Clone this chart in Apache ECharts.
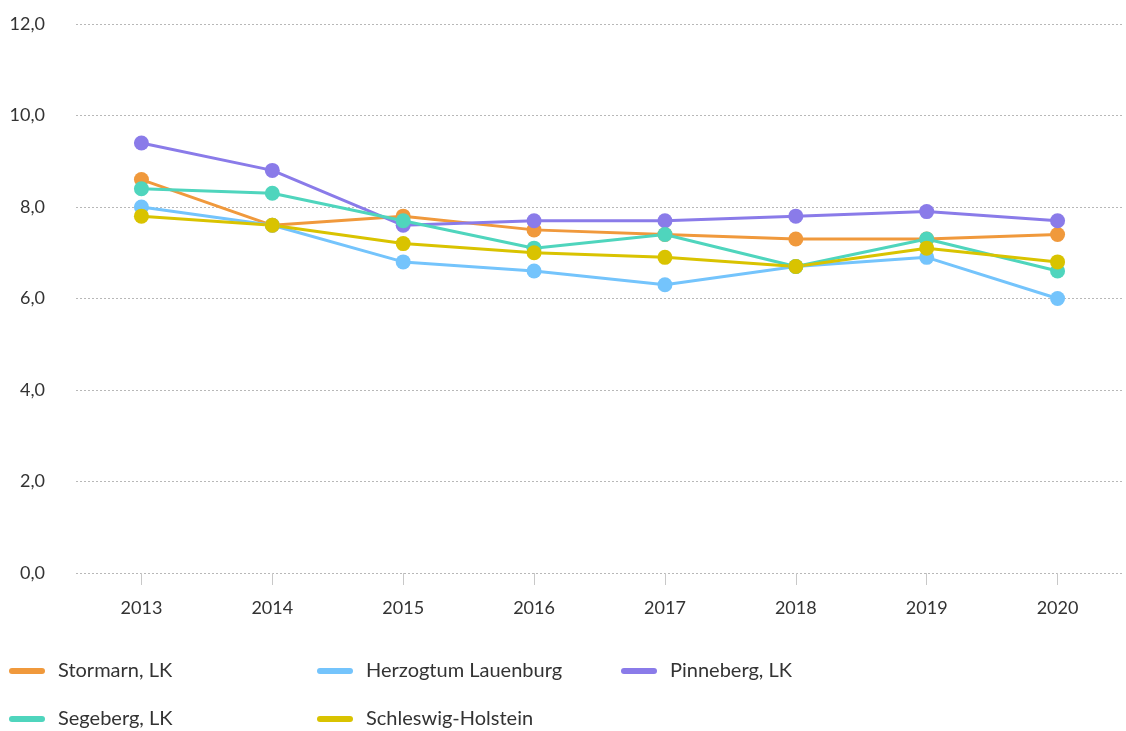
<!DOCTYPE html>
<html>
<head>
<meta charset="utf-8">
<script src="https://cdn.jsdelivr.net/npm/echarts@6/dist/echarts.min.js"></script>
<style>
  html, body { margin: 0; padding: 0; background: #fff; }
  #chart { width: 1126px; height: 731px; }
</style>
</head>
<body>
<div id="chart"></div>
<script>
// Daten
const years = ['2013', '2014', '2015', '2016', '2017', '2018', '2019', '2020'];
const seriesNames = ['Stormarn, LK', 'Herzogtum Lauenburg', 'Pinneberg, LK', 'Segeberg, LK', 'Schleswig-Holstein'];
const stormarn = [8.6, 7.6, 7.8, 7.5, 7.4, 7.3, 7.3, 7.4];
const lauenburg = [8.0, 7.6, 6.8, 6.6, 6.3, 6.7, 6.9, 6.0];
const pinneberg = [9.4, 8.8, 7.6, 7.7, 7.7, 7.8, 7.9, 7.7];
const segeberg = [8.4, 8.3, 7.7, 7.1, 7.4, 6.7, 7.3, 6.6];
const schleswigHolstein = [7.8, 7.6, 7.2, 7.0, 6.9, 6.7, 7.1, 6.8];
const yTicks = [0, 2, 4, 6, 8, 10, 12];

const colors = ['#f0993c', '#74c4fc', '#8a7be9', '#4fd5bd', '#d9c300'];
const allData = [stormarn, lauenburg, pinneberg, segeberg, schleswigHolstein];

const font = 'Lato';
const pill = 'path://M3,0 H33 A3,3 0 0 1 33,6 H3 A3,3 0 0 1 3,0 Z';

// jede Legende einzeln positionieren (2 Zeilen, 3 Spalten)
const legendPos = [[9, 671], [317, 671], [621, 671], [9, 719], [317, 719]];
const legends = seriesNames.map((name, i) => ({
    data: [name],
    left: legendPos[i][0],
    top: legendPos[i][1] - 12,
    padding: 0,
    icon: pill,
    itemWidth: 36,
    itemHeight: 6,
    selectedMode: false,
    textStyle: {
        fontFamily: font,
        fontSize: 20,
        lineHeight: 24,
        color: '#333',
        padding: [0, 0, 0, 8]
    }
}));

const chart = echarts.init(document.getElementById('chart'));
const option = {
    animation: false,
    backgroundColor: '#fff',
    color: colors,
    grid: {
        left: 76,
        right: 3,
        top: 24,
        bottom: 158,
        containLabel: false
    },
    legend: legends,
    xAxis: {
        type: 'category',
        data: years,
        boundaryGap: true,
        offset: 4,
        axisLine: { show: false },
        axisTick: {
            show: true,
            alignWithLabel: true,
            length: 12,
            lineStyle: { color: '#c8c8c8' }
        },
        axisLabel: {
            margin: 22,
            fontFamily: font,
            fontSize: 18,
            color: '#333'
        }
    },
    yAxis: {
        type: 'value',
        min: yTicks[0],
        max: yTicks[yTicks.length - 1],
        interval: 2,
        axisLine: { show: false },
        axisTick: { show: false },
        axisLabel: {
            margin: 31,
            fontFamily: font,
            fontSize: 18,
            color: '#333',
            formatter: v => v.toFixed(1).replace('.', ',')
        },
        splitLine: {
            show: true,
            lineStyle: { color: '#b8b8b8', type: [2, 2], width: 1 }
        }
    },
    series: seriesNames.map((name, i) => ({
        name: name,
        type: 'line',
        data: allData[i],
        symbol: 'circle',
        symbolSize: 15,
        lineStyle: { width: 3, color: colors[i] },
        itemStyle: { color: colors[i] },
        emphasis: { disabled: true }
    }))
};
option && chart.setOption(option);
</script>
</body>
</html>
